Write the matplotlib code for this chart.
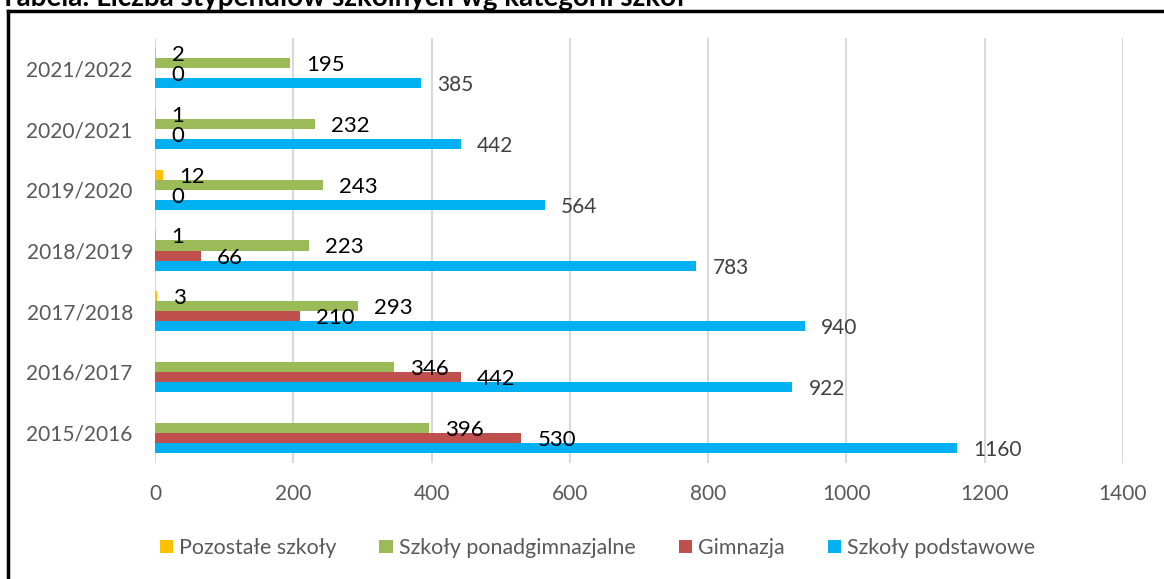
import numpy as np
import matplotlib
matplotlib.use("Agg")
import matplotlib.pyplot as plt
from matplotlib.patches import Patch
from matplotlib.lines import Line2D

plt.rcParams['font.family'] = ['Lato', 'DejaVu Sans']

# School years (bottom to top)
years = ["2015/2016", "2016/2017", "2017/2018", "2018/2019",
         "2019/2020", "2020/2021", "2021/2022"]

# Number of scholarships by school category
podstawowe = [1160, 922, 940, 783, 564, 442, 385]
gimnazja = [530, 442, 210, 66, 0, 0, 0]
ponadgimnazjalne = [396, 346, 293, 223, 243, 232, 195]
pozostale = [np.nan, np.nan, 3, 1, 12, 1, 2]

series_names = ["Pozostałe szkoły", "Szkoły ponadgimnazjalne", "Gimnazja", "Szkoły podstawowe"]
series_values = [pozostale, ponadgimnazjalne, gimnazja, podstawowe]
colors = ["#FFC000", "#9BBB59", "#C0504D", "#00B0F0"]
label_colors = ["#000000", "#000000", "#000000", "#404040"]
label_sizes = [16, 16, 16, 15]

x_ticks = [0, 200, 400, 600, 800, 1000, 1200, 1400]

W, H = 1164, 579
fig = plt.figure(figsize=(W / 100, H / 100), dpi=100)

# Plot area in pixel terms
left_px, right_px, top_px, bottom_px = 155, 1123, 38, 463
ax = fig.add_axes([left_px / W, 1 - bottom_px / H,
                   (right_px - left_px) / W, (bottom_px - top_px) / H])

n = len(years)
pos = np.arange(n)
h = 0.165
offsets = [1.5 * h, 0.5 * h, -0.5 * h, -1.5 * h]

for vals, off, col, lc, ls in zip(series_values, offsets, colors, label_colors, label_sizes):
    vals = np.array(vals, dtype=float)
    ax.barh(pos + off, np.nan_to_num(vals), height=h, color=col, zorder=3)
    for y, v in zip(pos + off, vals):
        if np.isnan(v):
            continue
        ax.annotate(f"{int(v)}", xy=(v, y), xytext=(16, -2),
                    textcoords="offset pixels", ha="left", va="center",
                    fontsize=ls, color=lc, zorder=4)

ax.set_xlim(0, 1400)
ax.set_ylim(-0.5, n - 0.5)
ax.set_xticks(x_ticks)
ax.set_xticklabels([str(t) for t in x_ticks])
ax.set_yticks(pos)
ax.set_yticklabels(years)
ax.tick_params(axis="both", length=0, labelsize=15, colors="#595959")
ax.tick_params(axis="x", pad=15)
ax.tick_params(axis="y", pad=16)
ax.grid(axis="x", color="#D9D9D9", linewidth=1.5, zorder=0)
for s in ax.spines.values():
    s.set_visible(False)

handles = [Patch(facecolor=c, edgecolor="none") for c in colors]
leg = fig.legend(handles, series_names, loc="center",
                 bbox_to_anchor=(597.5 / W, 1 - 548 / H), ncol=4,
                 frameon=False, fontsize=15.4, handlelength=0.62, handleheight=0.62,
                 handletextpad=0.3, columnspacing=2.0, borderaxespad=0)
for t in leg.get_texts():
    t.set_color("#595959")

# Frame around the chart (top and left edges)
fig.add_artist(Line2D([8 / W, 1], [1 - 11 / H, 1 - 11 / H], color="black",
                      linewidth=2.5, transform=fig.transFigure))
fig.add_artist(Line2D([8 / W, 8 / W], [0, 1 - 11 / H], color="black",
                      linewidth=2.5, transform=fig.transFigure))

# Heading above the frame
fig.text(0, 1 - 6 / H, "Tabela: Liczba stypendiów szkolnych wg kategorii szkół",
         fontsize=20, fontweight="bold", color="black", ha="left", va="baseline")

fig.savefig("out.png", dpi=100)
